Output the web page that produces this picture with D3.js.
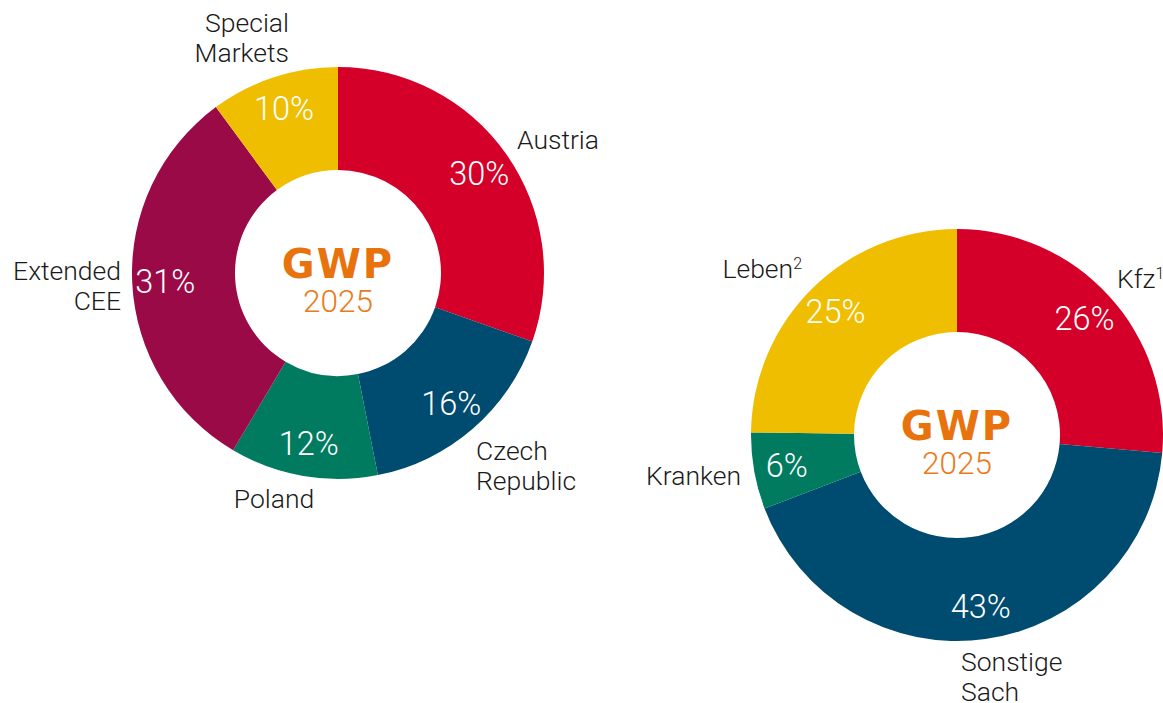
<!DOCTYPE html>
<html><head><meta charset="utf-8">
<script src="https://cdn.jsdelivr.net/npm/d3@7"></script>
<style>
html,body{margin:0;padding:0;background:#fff;}
svg{display:block;}
</style></head>
<body>
<svg id="chart" width="1163" height="703"></svg>
<script>
// ---- data ----
const regionCategories = ["Austria", "Czech Republic", "Poland", "Extended CEE", "Special Markets"];
const regionValues = [30.4, 16.5, 11.6, 31.4, 10.1];
const regionLabels = ["30%", "16%", "12%", "31%", "10%"];

const lineCategories = ["Kfz", "Sonstige Sach", "Kranken", "Leben"];
const lineValues = [26.4, 42.8, 6.0, 24.8];
const lineLabels = ["26%", "43%", "6%", "25%"];
const lineFootnotes = ["1", "", "", "2"];

const centerTitle = "GWP";
const centerYear = "2025";

// ---- styling / layout (kept separate from data) ----
const regionColors = ["#D50029", "#004B70", "#007B5F", "#9A0A47", "#F0BE00"];
const lineColors = ["#D50029", "#004B70", "#007B5F", "#F0BE00"];

// category-label anchor offsets relative to donut centre
const regionLabelLayout = [
  {dx: 179, dy: -134, anchor: "start"},
  {dx: 138, dy: 192, anchor: "start"},
  {dx: -64, dy: 225, anchor: "middle"},
  {dx: -217, dy: 12, anchor: "end"},
  {dx: -49, dy: -236, anchor: "end"}
];
const lineLabelLayout = [
  {dx: 160, dy: -157, anchor: "start"},
  {dx: 4, dy: 241, anchor: "start"},
  {dx: -216, dy: 40, anchor: "end"},
  {dx: -155, dy: -167, anchor: "end"}
];
const lineSplit = {"Czech Republic": ["Czech", "Republic"], "Extended CEE": ["Extended", "CEE"],
  "Special Markets": ["Special", "Markets"], "Sonstige Sach": ["Sonstige", "Sach"]};

const svg = d3.select("#chart");
const FONT = "Roboto, 'Noto Sans', sans-serif";

function donut(cx, cy, cats, vals, labs, colors, layout, notes) {
  const g = svg.append("g").attr("transform", `translate(${cx},${cy})`);
  const pie = d3.pie().sort(null).value(d => d.v);
  const data = pie(cats.map((c, i) => ({c, v: vals[i], l: labs[i], col: colors[i], i})));
  const arc = d3.arc().innerRadius(103).outerRadius(206);
  const labelArc = d3.arc().innerRadius(173).outerRadius(173);

  g.selectAll("path.slice").data(data).join("path")
    .attr("class", "slice")
    .attr("d", arc)
    .attr("fill", d => d.data.col);

  g.selectAll("text.pct").data(data).join("text")
    .attr("class", "pct")
    .attr("transform", d => { const c = labelArc.centroid(d); return `translate(${c[0]},${c[1] + 11.5})`; })
    .attr("text-anchor", "middle")
    .attr("fill", "#fff")
    .style("font-family", FONT)
    .style("font-weight", 300)
    .style("font-size", "32.5px")
    .text(d => d.data.l);

  data.forEach((d, i) => {
    const L = layout[i];
    const lines = lineSplit[d.data.c] || [d.data.c];
    const lh = 30;
    const t = g.append("text")
      .attr("text-anchor", L.anchor)
      .attr("fill", "#1a1a1a")
      .style("font-family", FONT)
      .style("font-weight", 300)
      .style("font-size", "26.5px");
    lines.forEach((ln, k) => {
      const y = L.dy + (k - (lines.length - 1) / 2) * lh + 9.5;
      t.append("tspan").attr("x", L.dx).attr("y", y).text(ln);
      if (notes && notes[i] && k === lines.length - 1) {
        t.append("tspan").attr("dy", -9).style("font-size", "16px").text(notes[i]);
      }
    });
  });

  g.append("text")
    .attr("text-anchor", "middle")
    .attr("y", 4.5)
    .attr("fill", "#E8720C")
    .style("font-family", "'DejaVu Sans', sans-serif")
    .style("font-weight", 700)
    .style("font-size", "40px")
    .style("letter-spacing", "2px")
    .text(centerTitle);
  g.append("text")
    .attr("text-anchor", "middle")
    .attr("y", 38.5)
    .attr("fill", "#EB7A1C")
    .style("font-family", FONT)
    .style("font-weight", 300)
    .style("font-size", "31.5px")
    .text(centerYear);
}

donut(338, 273, regionCategories, regionValues, regionLabels, regionColors, regionLabelLayout, null);
donut(957, 435, lineCategories, lineValues, lineLabels, lineColors, lineLabelLayout, lineFootnotes);
</script>
</body></html>
